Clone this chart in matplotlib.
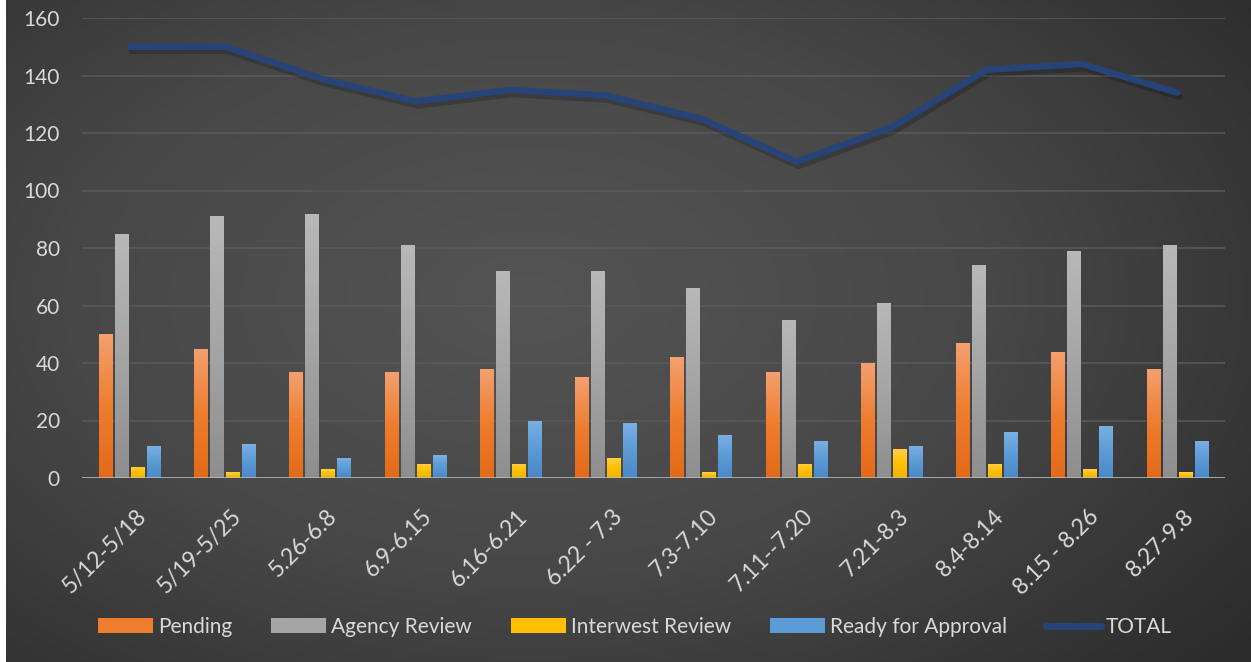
import numpy as np
import matplotlib
matplotlib.use("Agg")
import matplotlib.pyplot as plt
from matplotlib.patches import Patch
from matplotlib.lines import Line2D
import matplotlib.patheffects as pe
import matplotlib.transforms as mtransforms
from matplotlib.colors import LinearSegmentedColormap

categories = ["5/12-5/18", "5/19-5/25", "5.26-6.8", "6.9-6.15", "6.16-6.21", "6.22 - 7.3",
              "7.3-7.10", "7.11--7.20", "7.21-8.3", "8.4-8.14", "8.15 - 8.26", "8.27-9.8"]
pending = [50, 45, 37, 37, 38, 35, 42, 37, 40, 47, 44, 38]
agency_review = [85, 91, 92, 81, 72, 72, 66, 55, 61, 74, 79, 81]
interwest_review = [4, 2, 3, 5, 5, 7, 2, 5, 10, 5, 3, 2]
ready_for_approval = [11, 12, 7, 8, 20, 19, 15, 13, 11, 16, 18, 13]
total = [150, 150, 139, 131, 135, 133, 125, 110, 122, 142, 144, 134]
y_ticks = [0, 20, 40, 60, 80, 100, 120, 140, 160]

series = [
    ("Pending", pending, ("#F4A070", "#EE7D2E", "#E36A18")),
    ("Agency Review", agency_review, ("#B8B8B8", "#A5A5A5", "#8E8E8E")),
    ("Interwest Review", interwest_review, ("#FFD04A", "#FFC000", "#EDB400")),
    ("Ready for Approval", ready_for_approval, ("#7AB0E4", "#5B9BD5", "#4A88C8")),
]

FS = 15
W, H = 1251, 662
fig = plt.figure(figsize=(W / 100, H / 100), dpi=100, facecolor="white")

# background with radial gradient
bg = fig.add_axes([6 / W, 0, 1 - 6 / W, 1])
bg.set_axis_off()
yy, xx = np.mgrid[0:1:300j, 0:1:600j]
r = np.sqrt(((xx - 0.42) / 0.75) ** 2 + ((yy - 0.45) / 0.85) ** 2)
bgcmap = LinearSegmentedColormap.from_list("bg", ["#545454", "#474747", "#2b2b2b"])
bg.imshow(np.clip(r, 0, 1), cmap=bgcmap, aspect="auto", extent=[0, 1, 0, 1],
          vmin=0, vmax=1, interpolation="bilinear")
bg.set_xlim(0, 1)
bg.set_ylim(0, 1)

ax = fig.add_axes([82 / W, 1 - 478 / H, (1225 - 82) / W, (478 - 18) / H])
ax.set_facecolor("none")
for s in ax.spines.values():
    s.set_visible(False)

x = np.arange(len(categories))
bw = 0.142
step = 0.168
for i, (name, vals, cols) in enumerate(series):
    cm = LinearSegmentedColormap.from_list(name, [cols[2], cols[1], cols[0]])
    grad = np.linspace(0, 1, 128).reshape(-1, 1)
    off = (i - 1.5) * step
    bars = ax.bar(x + off, vals, bw, color=cols[1], zorder=3, linewidth=0)
    for b in bars:
        bx, by = b.get_x(), b.get_y()
        bwid, bh = b.get_width(), b.get_height()
        im = ax.imshow(grad, cmap=cm, aspect="auto", origin="lower",
                       extent=[bx, bx + bwid, by, by + bh], zorder=3.5,
                       interpolation="bilinear")
        im.set_clip_path(b)

ax.plot(x, total, color="#264478", lw=4.6, solid_capstyle="round",
        solid_joinstyle="round", zorder=5,
        path_effects=[pe.SimpleLineShadow(offset=(1.5, -3), shadow_color="black", alpha=0.2, rho=1),
                      pe.Normal()])

ax.set_xlim(-0.5, len(categories) - 0.5)
ax.set_ylim(0, 160)
ax.set_yticks(y_ticks)
ax.yaxis.grid(True, color="#5a5a5a", lw=1.1, zorder=0)
ax.set_axisbelow(True)
ax.axhline(0, color="#BFBFBF", lw=1.8, zorder=4)
ax.tick_params(axis="both", length=0, colors="#D9D9D9", labelsize=FS)
ax.tick_params(axis="y", pad=16)
for t in ax.get_yticklabels():
    t.set_fontfamily("Lato")
ax.set_xticks(x)
ax.set_xticklabels(categories, rotation=45, ha="right", rotation_mode="anchor",
                   fontfamily="Lato", fontsize=16.5, color="#D9D9D9")
ax.tick_params(axis="x", pad=20)
offset = mtransforms.ScaledTranslation(6 / 100, 0, fig.dpi_scale_trans)
for t in ax.get_xticklabels():
    t.set_transform(t.get_transform() + offset)

handles = [Patch(facecolor=c[1], edgecolor="none", label=n) for n, _, c in series]
handles.append(Line2D([0], [0], color="#264478", lw=5, solid_capstyle="round", label="TOTAL"))
leg = fig.legend(handles=handles, loc="center", bbox_to_anchor=(635 / W, 1 - 627 / H),
                 ncol=5, frameon=False, handlelength=2.65, handleheight=0.75,
                 handletextpad=0.25, columnspacing=1.85,
                 prop={"family": "Lato", "size": FS})
for t in leg.get_texts():
    t.set_color("#D9D9D9")

fig.savefig("out.png", dpi=100, facecolor="white")
